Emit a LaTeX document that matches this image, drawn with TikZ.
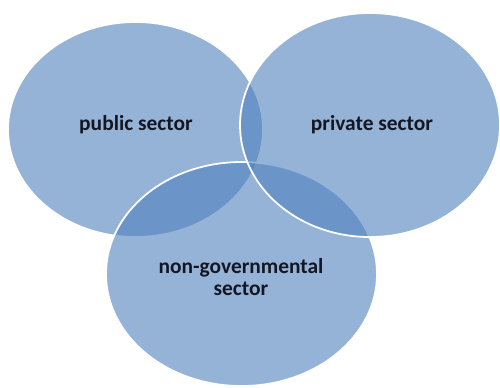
\documentclass[tikz,border=0pt]{standalone}
\usepackage{fontspec}
\setmainfont{Carlito}
\usetikzlibrary{positioning, shapes.geometric}
\definecolor{sectorblue}{RGB}{79,129,189}
\definecolor{labelink}{RGB}{20,22,35}
\tikzset{
    % Define style for the sector ellipses
    sector/.style={
           ellipse,
           draw=white, line width=1pt,
           fill=sectorblue, fill opacity=0.6,
           inner sep=0pt},
    % Define style for the labels
    sectortext/.style={
           align=center,
           text=labelink,
           inner sep=0pt,
           font=\fontsize{12.2}{12.2}\selectfont\bfseries},
}

\begin{document}
\begin{tikzpicture}[x=0.02cm, y=-0.02cm]
  \useasboundingbox (0,0) rectangle (500,387);

  \node[sector, minimum width=255*0.02cm, minimum height=215*0.02cm] (public) at (135.5,129.5) {};
  \node[sector, minimum width=271*0.02cm, minimum height=224*0.02cm] (nongov) at (241.5,274) {};
  \node[sector, minimum width=260*0.02cm, minimum height=224*0.02cm] (private) at (370,125) {};

  \node[sectortext] (publiclabel) at (136,125) {public sector};
  \node[sectortext] (privatelabel) at (372,125) {private sector};
  \node[sectortext] (nongovlabel) at (241,277) {non-governmental\\sector};
\end{tikzpicture}
\end{document}
